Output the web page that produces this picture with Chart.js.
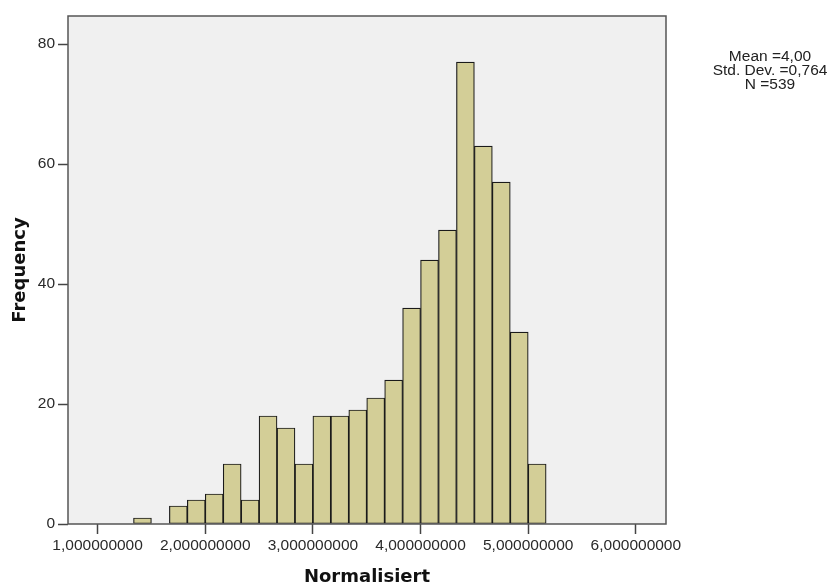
<!DOCTYPE html>
<html>
<head>
<meta charset="utf-8">
<script src="https://cdn.jsdelivr.net/npm/chart.js@4/dist/chart.umd.min.js"></script>
<style>
  body { margin: 0; background: #ffffff; }
  #myChart { display: block; }
</style>
</head>
<body>
<canvas id="myChart" width="832" height="588"></canvas>
<script>
// mitte jeder klasse (breite 1/6)
const binCenters = [1.4167, 1.5833, 1.75, 1.9167, 2.0833, 2.25, 2.4167, 2.5833, 2.75, 2.9167,
  3.0833, 3.25, 3.4167, 3.5833, 3.75, 3.9167, 4.0833, 4.25, 4.4167, 4.5833, 4.75, 4.9167, 5.0833]
const frequencies = [1, 0, 3, 4, 5, 10, 4, 18, 16, 10,
  18, 18, 19, 21, 24, 36, 44, 49, 77, 63, 57, 32, 10]

const xTickValues = [1, 2, 3, 4, 5, 6]
const yTickValues = [0, 20, 40, 60, 80]
const statsLines = ['Mean =4,00', 'Std. Dev. =0,764', 'N =539']

const xTitle = 'Normalisiert'
const yTitle = 'Frequency'

const tickFont = { family: '"Liberation Sans", Arial, sans-serif', size: 15.5 }
const titleFont = { family: '"DejaVu Sans", Verdana, sans-serif', size: 18, weight: 'bold' }

// hintergrund und rahmen der zeichenflaeche
const plotFrame = {
  id: 'plotFrame',
  beforeDatasetsDraw(chart) {
    const { ctx, chartArea: a } = chart
    ctx.save()
    ctx.fillStyle = '#f0f0f0'
    ctx.fillRect(a.left, a.top, a.right - a.left, a.bottom - a.top)
    ctx.restore()
  },
  afterDraw(chart) {
    const { ctx, chartArea: a } = chart
    ctx.save()
    ctx.strokeStyle = '#555555'
    ctx.lineWidth = 1.5
    ctx.strokeRect(a.left, a.top, a.right - a.left, a.bottom - a.top)
    // statistik rechts oben
    ctx.fillStyle = '#222222'
    ctx.font = '15.5px "Liberation Sans", Arial, sans-serif'
    ctx.textAlign = 'center'
    ctx.textBaseline = 'middle'
    statsLines.forEach((line, i) => ctx.fillText(line, 770, 57 + i * 14))
    ctx.restore()
  }
}

const data = {
  datasets: [{
    label: yTitle,
    data: binCenters.map((x, i) => ({ x, y: frequencies[i] })),
    backgroundColor: '#d3ce97',
    borderColor: '#1a1a1a',
    borderWidth: 1.2,
    borderSkipped: false,
    barPercentage: 1,
    categoryPercentage: 1
  }]
}

const config = {
  type: 'bar',
  data,
  plugins: [plotFrame],
  options: {
    responsive: false,
    animation: false,
    layout: { padding: { top: 16, right: 166, left: 0, bottom: 0 } },
    plugins: { legend: { display: false }, tooltip: { enabled: false } },
    scales: {
      x: {
        type: 'linear',
        min: 0.725,
        max: 6.28,
        offset: false,
        afterBuildTicks: scale => { scale.ticks = xTickValues.map(value => ({ value })) },
        afterFit: scale => { scale.height = 64 },
        grid: { display: true, offset: false, drawOnChartArea: false, drawTicks: true, tickLength: 10, tickColor: '#444444', tickWidth: 1.5 },
        border: { display: false },
        ticks: {
          color: '#2a2a2a',
          font: tickFont,
          padding: 2,
          maxRotation: 0,
          autoSkip: false,
          callback: v => v.toFixed(9).replace('.', ',')
        },
        title: { display: true, text: xTitle, color: '#111111', font: titleFont, padding: { top: 0, bottom: 0 } }
      },
      y: {
        min: 0,
        max: 84.67,
        afterBuildTicks: scale => { scale.ticks = yTickValues.map(value => ({ value })) },
        afterFit: scale => { scale.width = 68 },
        grid: { display: true, drawOnChartArea: false, drawTicks: true, tickLength: 10, tickColor: '#444444', tickWidth: 1.5 },
        border: { display: false },
        ticks: { color: '#2a2a2a', font: tickFont, padding: 3 },
        title: { display: true, text: yTitle, color: '#111111', font: titleFont, padding: { top: 10, bottom: 0 } }
      }
    }
  }
}

const canvas = document.querySelector('#myChart')
const myChart = new Chart(canvas, config)
</script>
</body>
</html>
